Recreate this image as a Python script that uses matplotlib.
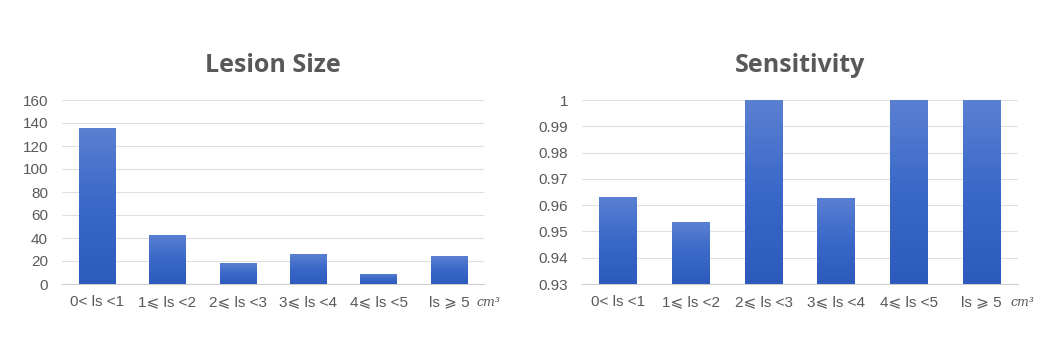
import numpy as np
import matplotlib.pyplot as plt
from matplotlib.colors import LinearSegmentedColormap

# Данные
categories = ["0< ls <1", "1⩽ ls <2", "2⩽ ls <3", "3⩽ ls <4", "4⩽ ls <5", "ls ⩾ 5"]
lesion_size = [136, 43, 18, 26, 9, 24]
sensitivity = [0.9632, 0.9535, 1.0, 0.9628, 1.0, 1.0]

gray = "#595959"
grid_c = "#e0e0e0"
cmap = LinearSegmentedColormap.from_list("bar", ["#2c5bbd", "#3a68c8", "#5a80d2"])

plt.rcParams['font.family'] = ['Liberation Sans', 'DejaVu Sans']

fig = plt.figure(figsize=(10.56, 3.54), dpi=100)
ax1 = fig.add_axes([62 / 1056, 70 / 354, 422 / 1056, 184 / 354])
ax2 = fig.add_axes([582 / 1056, 70 / 354, 436 / 1056, 184 / 354])


def draw(ax, vals, ymin, ymax, step, title, fmt):
    x = np.arange(len(vals))
    bars = ax.bar(x, vals, width=0.52, color="#3a68c8", zorder=3)
    if ymin != 0:
        for b, v in zip(bars, vals):
            b.set_y(ymin)
            b.set_height(v - ymin)
    # градиент на столбцах
    grad = np.linspace(0, 1, 256).reshape(-1, 1)
    for b in bars:
        bx, by = b.get_x(), b.get_y()
        w, h = b.get_width(), b.get_height()
        im = ax.imshow(grad, cmap=cmap, aspect='auto', origin='lower',
                       extent=[bx, bx + w, by, by + h], zorder=3)
        im.set_clip_path(b)
    ax.set_xlim(-0.5, len(vals) - 0.5)
    ax.set_ylim(ymin, ymax)
    ticks = np.arange(ymin, ymax + step / 2, step)
    ax.set_yticks(ticks)
    ax.set_yticklabels([fmt(t) for t in ticks])
    ax.set_xticks(x)
    ax.set_xticklabels(categories)
    ax.grid(axis='y', color=grid_c, linewidth=0.8, zorder=0)
    for s in ['top', 'right', 'left']:
        ax.spines[s].set_visible(False)
    ax.spines['bottom'].set_color("#d0d0d0")
    ax.tick_params(axis='both', length=0, colors=gray, labelsize=11)
    ax.tick_params(axis='x', pad=8)
    ax.tick_params(axis='y', pad=10)
    ax.set_title(title, fontsize=18, fontweight='bold', color=gray, pad=20,
                 family=['Open Sans', 'DejaVu Sans'])
    ax.text(len(vals) - 0.6, -0.1, "cm³", transform=ax.get_xaxis_transform(),
            fontsize=9, style='italic', family='DejaVu Serif', color=gray,
            ha='left', va='center')


draw(ax1, lesion_size, 0, 160, 20, "Lesion Size", lambda t: f"{t:.0f}")
draw(ax2, sensitivity, 0.93, 1.0, 0.01, "Sensitivity",
     lambda t: "1" if abs(t - 1) < 1e-9 else f"{t:.2f}")

plt.savefig("out.png", dpi=100)
